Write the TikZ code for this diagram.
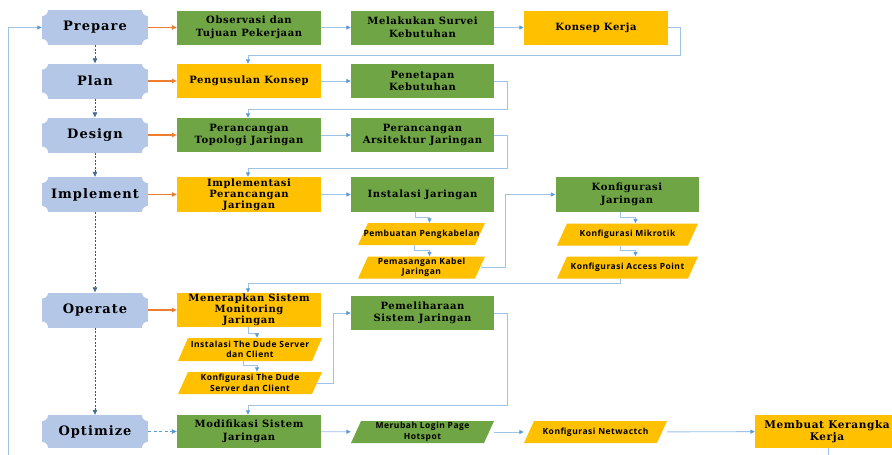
\documentclass[tikz,border=0pt]{standalone}
\usepackage{fontspec}
\setmainfont{DejaVu Serif}
\newfontfamily\boxfont{DejaVu Serif}[LetterSpace=6]
\newfontfamily\phasefont{DejaVu Serif}[LetterSpace=8]
\newfontfamily\parafont{Open Sans}[LetterSpace=6]
\usetikzlibrary{arrows.meta,calc}
\definecolor{gr}{HTML}{6FA544}
\definecolor{yl}{HTML}{FFC000}
\definecolor{ph}{HTML}{B4C7E7}
\definecolor{ln}{HTML}{9DC3E6}
\definecolor{ah}{HTML}{5B9BD5}
\definecolor{orr}{HTML}{ED7D31}
\definecolor{dk}{HTML}{44546A}
\tikzset{
 phase/.style={minimum width=106pt,minimum height=35pt,inner sep=0,fill=ph,
   font=\phasefont\fontsize{13}{15}\selectfont\bfseries,
   path picture={\foreach \c in {north west,north east,south west,south east}{\fill[white] (path picture bounding box.\c) circle (6pt);}}},
 box/.style={minimum width=144pt,minimum height=34pt,inner sep=0,align=center,font=\boxfont\fontsize{10}{12.5}\selectfont\bfseries},
 gbox/.style={box,fill=gr},
 ybox/.style={box,fill=yl},
 three/.style={font=\boxfont\fontsize{10}{11}\selectfont\bfseries},
 para/.style={minimum width=127pt,minimum height=22pt,inner sep=0,align=center,fill=white,
   font=\parafont\fontsize{8.5}{10.5}\selectfont\bfseries,
   path picture={\fill[#1] (path picture bounding box.south west) -- ([xshift=-10pt]path picture bounding box.south east) -- (path picture bounding box.north east) -- ([xshift=10pt]path picture bounding box.north west) -- cycle;}},
 para/.default=yl,
 conn/.style={draw=ln,line width=0.9pt,-{Triangle[length=4.5pt,width=4pt,color=ah]}},
 oarr/.style={draw=orr,line width=1.1pt,-{Triangle[length=5pt,width=4.5pt]}},
 parr/.style={draw=dk,dash pattern=on 2pt off 1.5pt,line width=0.6pt,-{Triangle[length=5pt,width=4.5pt,color=ah!70!black]}},
 oparr/.style={draw=ah,dash pattern=on 3pt off 2.5pt,line width=0.7pt,-{Triangle[length=5pt,width=4.5pt,color=ah]}}
}
\begin{document}
\begin{tikzpicture}[x=1pt,y=-1pt]
\useasboundingbox[fill=white] (0,0) rectangle (892,455);
% phases
\node[phase] (prep) at (95,27.5) {Prepare};
\node[phase] (plan) at (95,81) {Plan};
\node[phase] (des) at (95,135) {Design};
\node[phase] (impl) at (95,194.5) {Implement};
\node[phase] (oper) at (95,310) {Operate};
\node[phase,minimum height=33pt] (opt) at (95,431.5) {Optimize};
% row 1
\node[gbox] (obs) at (249,27.5) {Observasi dan\\Tujuan Pekerjaan};
\node[gbox,minimum width=143pt] (surv) at (422.5,27.5) {Melakukan Survei\\Kebutuhan};
\node[ybox] (konsep) at (596,27.5) {Konsep Kerja};
% row 2
\node[ybox] (pengus) at (249,81) {Pengusulan Konsep};
\node[gbox,minimum width=143pt] (penet) at (422.5,81) {Penetapan\\Kebutuhan};
% row 3
\node[gbox] (topo) at (249,135) {Perancangan\\Topologi Jaringan};
\node[gbox,minimum width=143pt] (arsi) at (422.5,135) {Perancangan\\Arsitektur Jaringan};
% row 4
\node[ybox,three,minimum height=35pt] (implp) at (249,194.5) {Implementasi\\Perancangan\\Jaringan};
\node[gbox,minimum width=143pt,minimum height=35pt] (inst) at (422.5,194.5) {Instalasi Jaringan};
\node[para] (pembuatan) at (421.5,234) {Pembuatan Pengkabelan};
\node[para] (pemasangan) at (421.5,267.5) {Pemasangan Kabel\\Jaringan};
\node[gbox,minimum width=143pt,minimum height=35pt] (konfj) at (627,194.5) {Konfigurasi\\Jaringan};
\node[para,minimum width=141pt] (mikro) at (627.5,234.5) {Konfigurasi Mikrotik};
\node[para,minimum width=141pt] (ap) at (627.5,267.5) {Konfigurasi Access Point};
% row 5
\node[ybox,three] (mener) at (249,310) {Menerapkan Sistem\\Monitoring\\Jaringan};
\node[para,minimum width=144pt,minimum height=23pt] (dudeinst) at (250,349.5) {Instalasi The Dude Server\\dan Client};
\node[para,minimum width=144pt] (dudekonf) at (250,383) {Konfigurasi The Dude\\Server dan Client};
\node[gbox,minimum width=143pt] (pemel) at (422.5,313) {Pemeliharaan\\Sistem Jaringan};
% row 6
\node[gbox,minimum height=33pt] (modif) at (249,431.5) {Modifikasi Sistem\\Jaringan};
\node[para=gr,minimum width=143pt] (merubah) at (422.5,432) {Merubah Login Page\\Hotspot};
\node[para,minimum width=143pt] (netw) at (595.5,432) {Konfigurasi Netwactch};
\node[ybox,minimum height=33pt,font=\boxfont\fontsize{10.5}{12.5}\selectfont\bfseries] (membuat) at (827,431.5) {Membuat Kerangka\\Kerja};
\coordinate (mend) at (828,458);
\coordinate (fb) at (8,458);
% phase arrows
\draw[parr] (prep) -- (plan);
\draw[parr] (plan) -- (des);
\draw[parr] (des) -- (impl);
\draw[parr] (impl) -- (oper);
\draw[parr] (oper) -- (opt);
\draw[conn] (fb) |- (prep.west);
% orange arrows
\draw[oarr] (prep) -- (obs);
\draw[oarr] (plan) -- (pengus);
\draw[oarr] (des) -- (topo);
\draw[oarr] (impl) -- (implp);
\draw[oarr] (oper) -- (mener);
\draw[oparr] (opt) -- (modif);
% row connectors
\draw[conn] (obs) -- (surv);
\draw[conn] (surv) -- (konsep);
\draw[conn] (konsep.east) -| (680,55) -| ([xshift=-1pt]pengus.north);
\draw[conn] (pengus) -- (penet);
\draw[conn] (penet.east) -| (507,109) -| ([xshift=-1pt]topo.north);
\draw[conn] (topo) -- (arsi);
\draw[conn] (arsi.east) -| (507,168) -| ([xshift=-1pt]implp.north);
\draw[conn] (implp) -- (inst);
\draw[conn] ([xshift=-7pt]inst.south) -- ++(0,5) -| ([xshift=8pt]pembuatan.north);
\draw[conn] ([xshift=-7pt]pembuatan.south) -- ++(0,5) -| ([xshift=8pt]pemasangan.north);
\draw[conn] ([xshift=-4pt]pemasangan.east) -- ++(24,0) |- (konfj.west);
\draw[conn] ([xshift=-7pt]konfj.south) -- ++(0,5) -| ([xshift=8pt]mikro.north);
\draw[conn] ([xshift=-7pt]mikro.south) -- ++(0,5) -| ([xshift=8pt]ap.north);
\draw[conn] ([xshift=-7pt]ap.south) -- ++(0,5) -| ([xshift=-1pt]mener.north);
\draw[conn] ([xshift=-1pt]mener.south) -- ++(0,6) -| ([xshift=7pt]dudeinst.north);
\draw[conn] ([xshift=-7pt]dudeinst.south) -- ++(0,4) -| ([xshift=7pt]dudekonf.north);
\draw[conn] ([xshift=-6pt]dudekonf.east) -- ++(17,0) |- (pemel.west);
\draw[conn] (pemel.east) -| (507,405) -| ([xshift=-1pt]modif.north);
\draw[conn] (modif) -- (merubah);
\draw[conn] (merubah) -- (netw);
\draw[conn] (netw) -- (membuat);
\draw[draw=ln,line width=0.9pt] (mend |- membuat.south) -- (mend);
\end{tikzpicture}
\end{document}
